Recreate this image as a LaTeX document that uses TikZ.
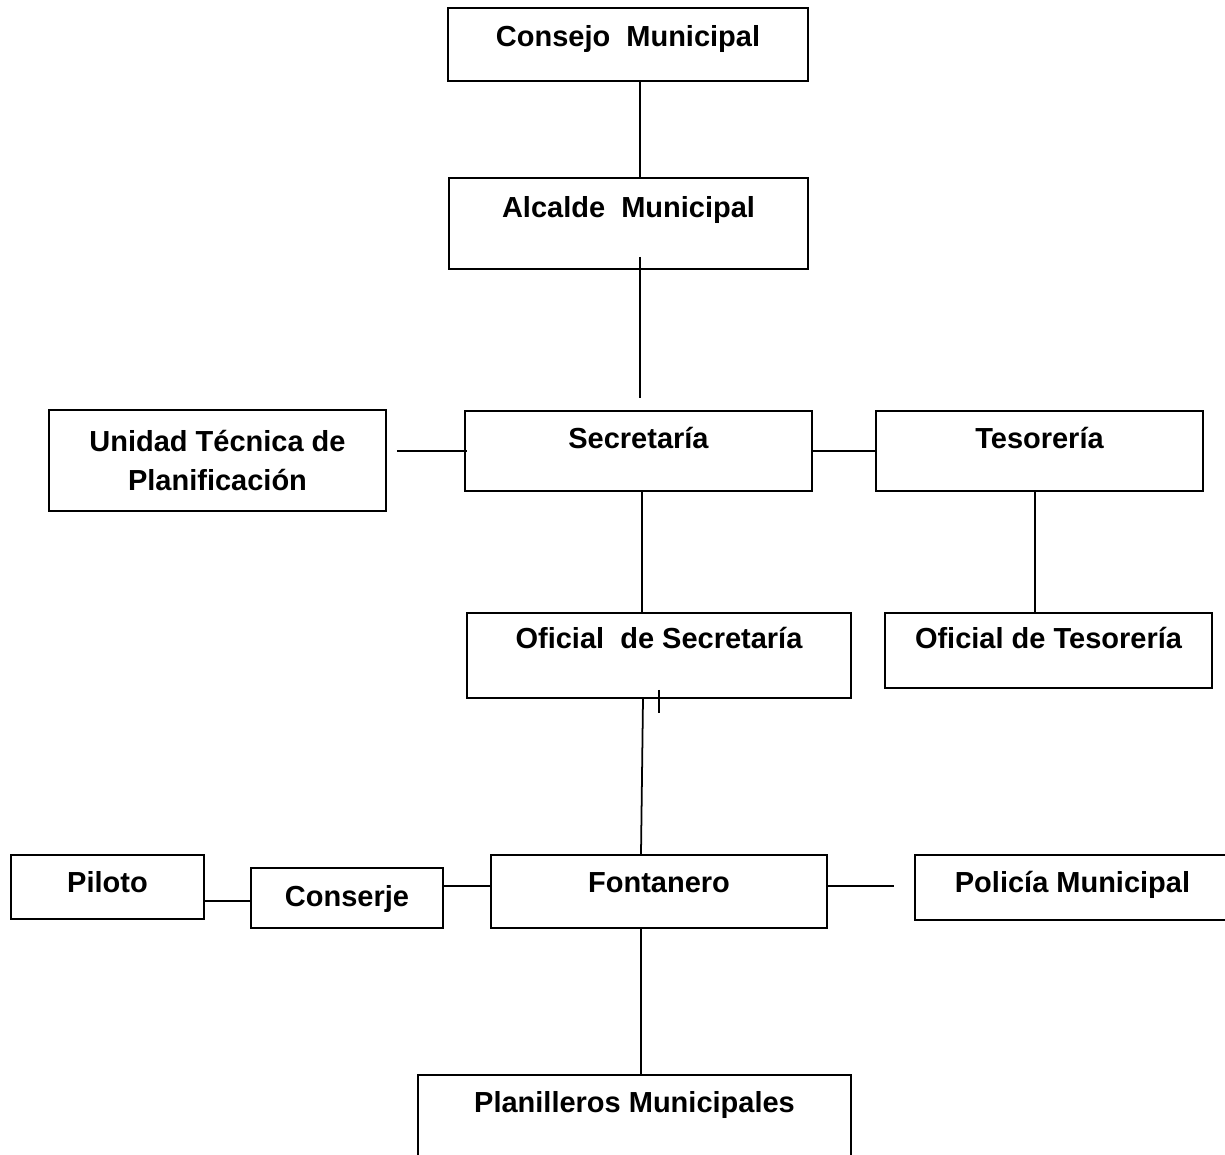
\documentclass[tikz,border=0pt]{standalone}
\usepackage{fontspec}
\setmainfont{Liberation Sans}
\usepackage{tikz}
\usetikzlibrary{calc}
\usetikzlibrary{positioning}

\begin{document}
\begin{tikzpicture}
	\tikzset{
	  unit/.style={draw,line width=1.1pt,inner sep=0pt,anchor=north,
		font=\fontsize{16.5}{22}\selectfont\bfseries,align=center},
	  link/.style={line width=1pt}
	}
	\useasboundingbox (0,0) rectangle (24.5,-23.08);
	\clip (0,0) rectangle (24.5,-23.08);
	%TOP
	\node[unit,minimum width=7.2cm,text height=0.78cm,text depth=0.68cm] (consejo) at (12.56,-0.14) {Consejo~~Municipal};
	\node[unit,minimum width=7.18cm,text height=0.8cm,text depth=1.02cm] (alcalde) at (12.57,-3.54) {Alcalde~~Municipal};
	%SECOND ROW
	\node[unit,minimum width=6.94cm,text height=0.76cm,text depth=0.84cm] (secretaria) at (12.77,-8.2) {Secretaría};
	\node[unit,anchor=center,minimum width=6.74cm,minimum height=2.02cm] (utp) at (4.35,-9.21) {Unidad Técnica de\\Planificación};
	\node[unit,minimum width=6.54cm,text height=0.76cm,text depth=0.84cm] (tesoreria) at (20.79,-8.2) {Tesorería};
	%OFICIALES
	\node[unit,minimum width=7.68cm,text height=0.72cm,text depth=0.98cm] (oficsec) at (13.18,-12.24) {Oficial~~de Secretaría};
	\node[unit,minimum width=6.54cm,text height=0.72cm,text depth=0.78cm] (ofictes) at (20.97,-12.24) {Oficial de Tesorería};
	%THIRD ROW
	\node[unit,minimum width=6.72cm,text height=0.76cm,text depth=0.7cm] (fontanero) at (13.18,-17.08) {Fontanero};
	\node[unit,minimum width=3.86cm,text height=0.76cm,text depth=0.52cm] (piloto) at (2.15,-17.08) {Piloto};
	\node[unit,minimum width=3.84cm,text height=0.78cm,text depth=0.42cm] (conserje) at (6.94,-17.34) {Conserje};
	\node[unit,minimum width=6.3cm,text height=0.76cm,text depth=0.54cm] (policia) at (21.45,-17.08) {Policía Municipal};
	%BOTTOM
	\node[unit,minimum width=8.66cm,text height=0.76cm,text depth=3cm] (planilleros) at (12.69,-21.48) {Planilleros Municipales};
	%LINKS
	\draw[link] ([xshift=0.24cm]consejo.south) -- ([xshift=0.24cm]consejo.south |- alcalde.north);
	\draw[link] ([shift={(0.23,0.26)}]alcalde.south) -- ([shift={(0.03,0.24)}]secretaria.north);
	\draw[link] ([xshift=0.2cm]utp.east |- secretaria.west) -- ([xshift=0.06cm]secretaria.west);
	\draw[link] (secretaria.east) -- (tesoreria.west);
	\draw[link] ([xshift=0.07cm]secretaria.south) -- ([xshift=0.07cm]secretaria.south |- oficsec.north);
	\draw[link] ([xshift=-0.09cm]tesoreria.south) -- ([xshift=-0.09cm]tesoreria.south |- ofictes.north);
	\draw[link] ([xshift=-0.32cm]oficsec.south) -- ([xshift=-0.36cm]fontanero.north);
	\draw[link] ([yshift=0.18cm]oficsec.south) -- ([yshift=-0.28cm]oficsec.south);
	\draw[link] ([yshift=0.11cm]fontanero.west) -- ([yshift=0.11cm]fontanero.west -| conserje.east);
	\draw[link] ([yshift=-0.06cm]conserje.west) -- ([yshift=-0.06cm]conserje.west -| piloto.east);
	\draw[link] ([yshift=0.11cm]fontanero.east) -- ([shift={(-0.4,0.11)}]fontanero.east -| policia.west);
	\draw[link] ([xshift=-0.36cm]fontanero.south) -- ([xshift=-0.36cm]fontanero.south |- planilleros.north);
\end{tikzpicture}
\end{document}
